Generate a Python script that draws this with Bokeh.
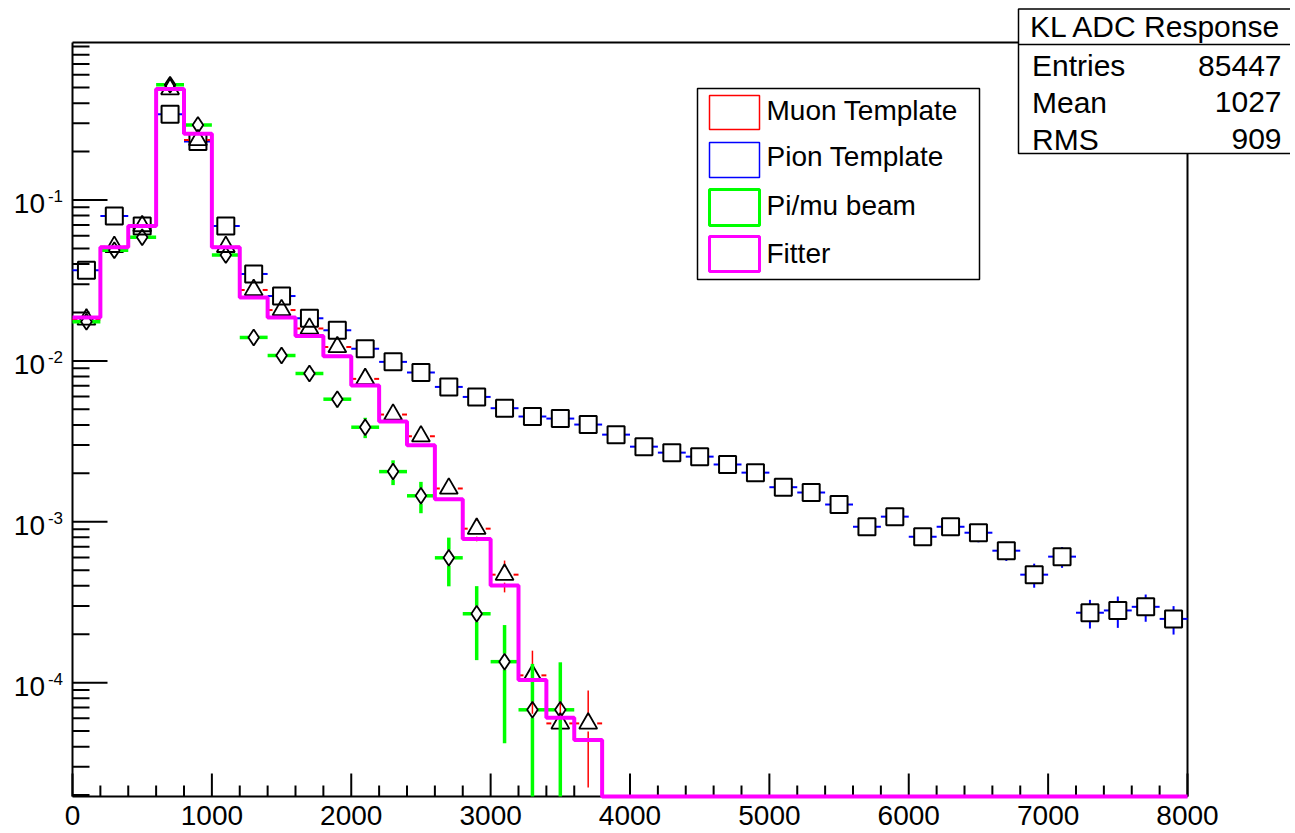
import math
from bokeh.plotting import figure
from bokeh.models import Range1d, Label, BoxAnnotation, Grid
from bokeh.core.properties import value
from bokeh.embed import file_html
from bokeh.resources import INLINE

# ---------------- data ----------------
bin_edges = [0, 200, 400, 600, 800, 1000, 1200, 1400, 1600, 1800, 2000,
             2200, 2400, 2600, 2800, 3000, 3200, 3400, 3600, 3800, 4000,
             4200, 4400, 4600, 4800, 5000, 5200, 5400, 5600, 5800, 6000,
             6200, 6400, 6600, 6800, 7000, 7200, 7400, 7600, 7800, 8000]
bin_centers = [100, 300, 500, 700, 900, 1100, 1300, 1500, 1700, 1900,
               2100, 2300, 2500, 2700, 2900, 3100, 3300, 3500, 3700, 3900,
               4100, 4300, 4500, 4700, 4900, 5100, 5300, 5500, 5700, 5900,
               6100, 6300, 6500, 6700, 6900, 7100, 7300, 7500, 7700, 7900]

pion = [0.0366, 0.0795, 0.0689, 0.341, 0.231, 0.0689, 0.0347, 0.0253, 0.0184, 0.0155,
        0.0119, 0.00986, 0.00847, 0.00689, 0.00597, 0.00508, 0.00451, 0.00438, 0.00402, 0.00348,
        0.00293, 0.00269, 0.00254, 0.00227, 0.00202, 0.00164, 0.00152, 0.00128, 0.000931, 0.001076,
        0.000807, 0.000931, 0.000855, 0.000661, 0.000469, 0.000607, 0.000272, 0.000281, 0.000296, 0.000249]
pion_err = [0.0006, 0.0009, 0.0009, 0.002, 0.0016, 0.0009, 0.0006, 0.0005, 0.00045, 0.0004,
            0.00036, 0.00033, 0.0003, 0.00027, 0.00025, 0.00024, 0.00022, 0.00022, 0.00021, 0.0002,
            0.00018, 0.00017, 0.00017, 0.00016, 0.00015, 0.00013, 0.00013, 0.00012, 0.0001, 0.00011,
            0.0001, 0.0001, 0.00011, 0.00009, 0.00008, 0.00009, 0.000055, 0.000062, 0.000057, 0.00005]

muon = [0.0181, 0.0512, 0.0689, 0.489, 0.236, 0.0512, 0.0276, 0.0207, 0.0159, 0.0122,
        0.00773, 0.00464, 0.0034, 0.00161, 0.000906, 0.000469, 0.000111, 0.0000558, 0.0000558, 0.0,
        0.0, 0.0, 0.0, 0.0, 0.0, 0.0, 0.0, 0.0, 0.0, 0.0,
        0.0, 0.0, 0.0, 0.0, 0.0, 0.0, 0.0, 0.0, 0.0, 0.0]
muon_err = [0.0005, 0.0008, 0.0009, 0.003, 0.002, 0.0008, 0.0006, 0.0005, 0.00045, 0.0004,
            0.00032, 0.00025, 0.00021, 0.00015, 0.00015, 0.000105, 0.000047, 0.0000335, 0.0000335, 0.0,
            0.0, 0.0, 0.0, 0.0, 0.0, 0.0, 0.0, 0.0, 0.0, 0.0,
            0.0, 0.0, 0.0, 0.0, 0.0, 0.0, 0.0, 0.0, 0.0, 0.0]

beam = [0.0175, 0.0487, 0.0586, 0.52, 0.293, 0.0455, 0.014, 0.0108, 0.00835, 0.00578,
        0.00387, 0.00205, 0.00145, 0.000597, 0.000268, 0.000135, 0.0000678, 0.0000678, 0.0, 0.0,
        0.0, 0.0, 0.0, 0.0, 0.0, 0.0, 0.0, 0.0, 0.0, 0.0,
        0.0, 0.0, 0.0, 0.0, 0.0, 0.0, 0.0, 0.0, 0.0, 0.0]
beam_err = [0.0012, 0.0021, 0.0023, 0.0066, 0.005, 0.002, 0.0011, 0.00095, 0.00083, 0.00064,
            0.00056, 0.00036, 0.00032, 0.0002, 0.00013, 0.000093, 0.000063, 0.000066, 0.0, 0.0,
            0.0, 0.0, 0.0, 0.0, 0.0, 0.0, 0.0, 0.0, 0.0, 0.0,
            0.0, 0.0, 0.0, 0.0, 0.0, 0.0, 0.0, 0.0, 0.0, 0.0]

fitter = [0.0186, 0.0508, 0.0689, 0.489, 0.258, 0.0508, 0.0248, 0.0186, 0.0143, 0.0107,
          0.00703, 0.0042, 0.00299, 0.00138, 0.00078, 0.000402, 0.000104, 0.0000604, 0.000044, 0.0,
          0.0, 0.0, 0.0, 0.0, 0.0, 0.0, 0.0, 0.0, 0.0, 0.0,
          0.0, 0.0, 0.0, 0.0, 0.0, 0.0, 0.0, 0.0, 0.0, 0.0]

legend_labels = ["Muon Template", "Pion Template", "Pi/mu beam", "Fitter"]
legend_colors = ["#ff0000", "#0000ff", "#00ff00", "#ff00ff"]
stats_title = "KL ADC Response"
stats_names = ["Entries", "Mean", "RMS"]
stats_values = ["85447", "1027", "909"]

x_ticks = [0, 1000, 2000, 3000, 4000, 5000, 6000, 7000, 8000]
x_tick_labels = ["0", "1000", "2000", "3000", "4000", "5000", "6000", "7000", "8000"]
y_ticks = [1e-4, 1e-3, 1e-2, 1e-1]
y_tick_exps = ["-4", "-3", "-2", "-1"]

# ---------------- layout (canvas pixels) ----------------
X_MIN, X_MAX = 0, 8000
Y_MIN, Y_MAX = 1.96e-5, 0.953
W, H = 1290, 832
FL, FR, FT, FB = 72, 1187, 42, 796          # the histogram frame
FW, FH = FR - FL, FB - FT
PPD = FH / math.log10(Y_MAX / Y_MIN)        # pixels per decade
DPX = (X_MAX - X_MIN) / FW                  # x data units per pixel
FONT = "Liberation Sans"
BASE_FIX = 0.36                             # text baseline correction (em)


def xd(cx):            # canvas x pixel -> data x
    return X_MIN + (cx - FL) * DPX


def yd(cy):            # canvas y pixel -> data y (log axis)
    return 10 ** (math.log10(Y_MIN) + (FB - cy) / PPD)


def yshift(v, px):     # move a data y value up by px pixels
    return v * 10 ** (px / PPD)


x_minor = [t for t in range(X_MIN, X_MAX + 1, 200) if t % 1000 != 0]
y_minor = [k * 10.0 ** d for d in range(-5, 0) for k in range(2, 10) if Y_MIN <= k * 10.0 ** d <= Y_MAX]

p = figure(width=W, height=H, title=None,
           x_range=Range1d(xd(0), xd(W)), y_range=Range1d(yd(H), yd(0)),
           y_axis_type="log", x_axis_location=None, y_axis_location=None,
           output_backend="svg", toolbar_location=None, min_border=0)
p.background_fill_color = "white"
p.border_fill_color = "white"
p.outline_line_color = None
for r in p.select(type=Grid):
    r.visible = False

# ---------------- frame and ticks (ROOT style: ticks inside) ----------------
p.segment(x0=[X_MIN, X_MIN, X_MIN, X_MAX], y0=[Y_MIN, Y_MAX, Y_MIN, Y_MIN],
          x1=[X_MAX, X_MAX, X_MIN, X_MAX], y1=[Y_MIN, Y_MAX, Y_MAX, Y_MAX],
          line_color="black", line_width=2)
p.segment(x0=x_ticks, y0=[Y_MIN] * len(x_ticks), x1=x_ticks,
          y1=[yshift(Y_MIN, 23)] * len(x_ticks), line_color="black", line_width=2)
p.segment(x0=x_minor, y0=[Y_MIN] * len(x_minor), x1=x_minor,
          y1=[yshift(Y_MIN, 11)] * len(x_minor), line_color="black", line_width=2)
p.segment(x0=[X_MIN] * len(y_ticks), y0=y_ticks, x1=[X_MIN + 35 * DPX] * len(y_ticks),
          y1=y_ticks, line_color="black", line_width=2)
p.segment(x0=[X_MIN] * len(y_minor), y0=y_minor, x1=[X_MIN + 17 * DPX] * len(y_minor),
          y1=y_minor, line_color="black", line_width=2)

# tick labels
p.text(x=x_ticks, y=[yd(825 - BASE_FIX * 28)] * len(x_ticks), text=x_tick_labels,
       text_font=value(FONT), text_font_size="28px", text_align="center",
       text_baseline="alphabetic", text_color="black")
p.text(x=[xd(44.5)] * len(y_ticks), y=[yshift(t, -14 + BASE_FIX * 28) for t in y_ticks],
       text=["10"] * len(y_ticks),
       text_font=value(FONT), text_font_size="28px", text_align="right",
       text_baseline="alphabetic", text_color="black")
p.text(x=[xd(62.5)] * len(y_ticks), y=[yshift(t, -2 + BASE_FIX * 17) for t in y_ticks],
       text=y_tick_exps,
       text_font=value(FONT), text_font_size="17px", text_align="right",
       text_baseline="alphabetic", text_color="black")


# ---------------- histograms with error bars ----------------
def bars(vals, errs, half_w_px, half_h_px):
    gx = half_w_px * DPX
    f = 10 ** (half_h_px / PPD)
    h = dict(x0=[], x1=[], y=[])
    vv = dict(x=[], y0=[], y1=[])
    mk = dict(x=[], y=[])
    for i, (v, e) in enumerate(zip(vals, errs)):
        if v <= 0:
            continue
        lo, hi, c = bin_edges[i], bin_edges[i + 1], bin_centers[i]
        mk["x"].append(c)
        mk["y"].append(v)
        h["x0"] += [lo, c + gx]
        h["x1"] += [c - gx, hi]
        h["y"] += [v, v]
        if v + e > v * f:
            vv["x"].append(c); vv["y0"].append(v * f); vv["y1"].append(min(v + e, Y_MAX))
        if v - e < v / f:
            vv["x"].append(c); vv["y0"].append(max(v - e, Y_MIN)); vv["y1"].append(v / f)
    return h, vv, mk


def draw_series(vals, errs, color, bar_w, vbar_w, marker, size, hw, hh, mlw):
    h, vv, mk = bars(vals, errs, hw, hh)
    p.segment(x0=h["x0"], y0=h["y"], x1=h["x1"], y1=h["y"], line_color=color, line_width=bar_w)
    if vv["x"]:
        p.segment(x0=vv["x"], y0=vv["y0"], x1=vv["x"], y1=vv["y1"], line_color=color,
                  line_width=vbar_w)
    p.scatter(x=mk["x"], y=mk["y"], marker=marker, size=size, fill_color=None,
              line_color="black", line_width=mlw)


draw_series(pion, pion_err, legend_colors[1], 2, 2, "square", 17, 8.5, 8.5, 2)
draw_series(muon, muon_err, legend_colors[0], 2, 1.5, "triangle", 18, 9, 8, 1.8)
draw_series(beam, beam_err, legend_colors[2], 3.5, 3.5, "diamond", 16, 5.5, 8, 1.8)

# Fitter histogram: empty bins lie on the lower edge, as ROOT draws them
fit_y = [v if v > 0 else Y_MIN for v in fitter]
fit_y = fit_y + [fit_y[-1]]
p.step(x=bin_edges, y=fit_y, mode="after", line_color=legend_colors[3], line_width=4)


# ---------------- legend and statistics box ----------------
def box(left, top, right, bottom, **kw):
    return BoxAnnotation(left=left, right=right, top=H - top, bottom=H - bottom,
                         left_units="screen", right_units="screen",
                         top_units="screen", bottom_units="screen",
                         fill_alpha=1.0, line_alpha=1.0, **kw)


def lab(text, cx, cy, size, align="left"):
    return Label(x=cx, y=H - (cy - BASE_FIX * size), x_units="screen", y_units="screen",
                 text=text, text_font=FONT, text_font_size=f"{size}px", text_align=align,
                 text_baseline="alphabetic", text_color="black")


p.add_layout(box(697, 88, 979, 279, fill_color="white", line_color="black", line_width=1.5))
rows = [(95, 129), (142, 177), (189, 225), (236, 271)]
baselines = [119.7, 166.3, 215.3, 263]
swatch_w = [1.5, 1.5, 3, 3]
for (t, b), bl, txt, col, lw in zip(rows, baselines, legend_labels, legend_colors, swatch_w):
    p.add_layout(box(709, t, 759, b, fill_color=None, line_color=col, line_width=lw))
    p.add_layout(lab(txt, 766, bl, 28))

p.add_layout(box(1018, 8.5, 1310, 153, fill_color="white", line_color="black", line_width=1.5))
p.add_layout(box(1018, 44, 1310, 44, fill_color=None, line_color="black", line_width=1.5))
p.add_layout(lab(stats_title, 1155.5, 36.7, 30, "center"))
for name, val, bl in zip(stats_names, stats_values, [76, 112.7, 149.3]):
    p.add_layout(lab(name, 1031.5, bl, 30))
    p.add_layout(lab(val, 1281, bl, 30, "right"))

open("out.html", "w").write(file_html(p, INLINE))
